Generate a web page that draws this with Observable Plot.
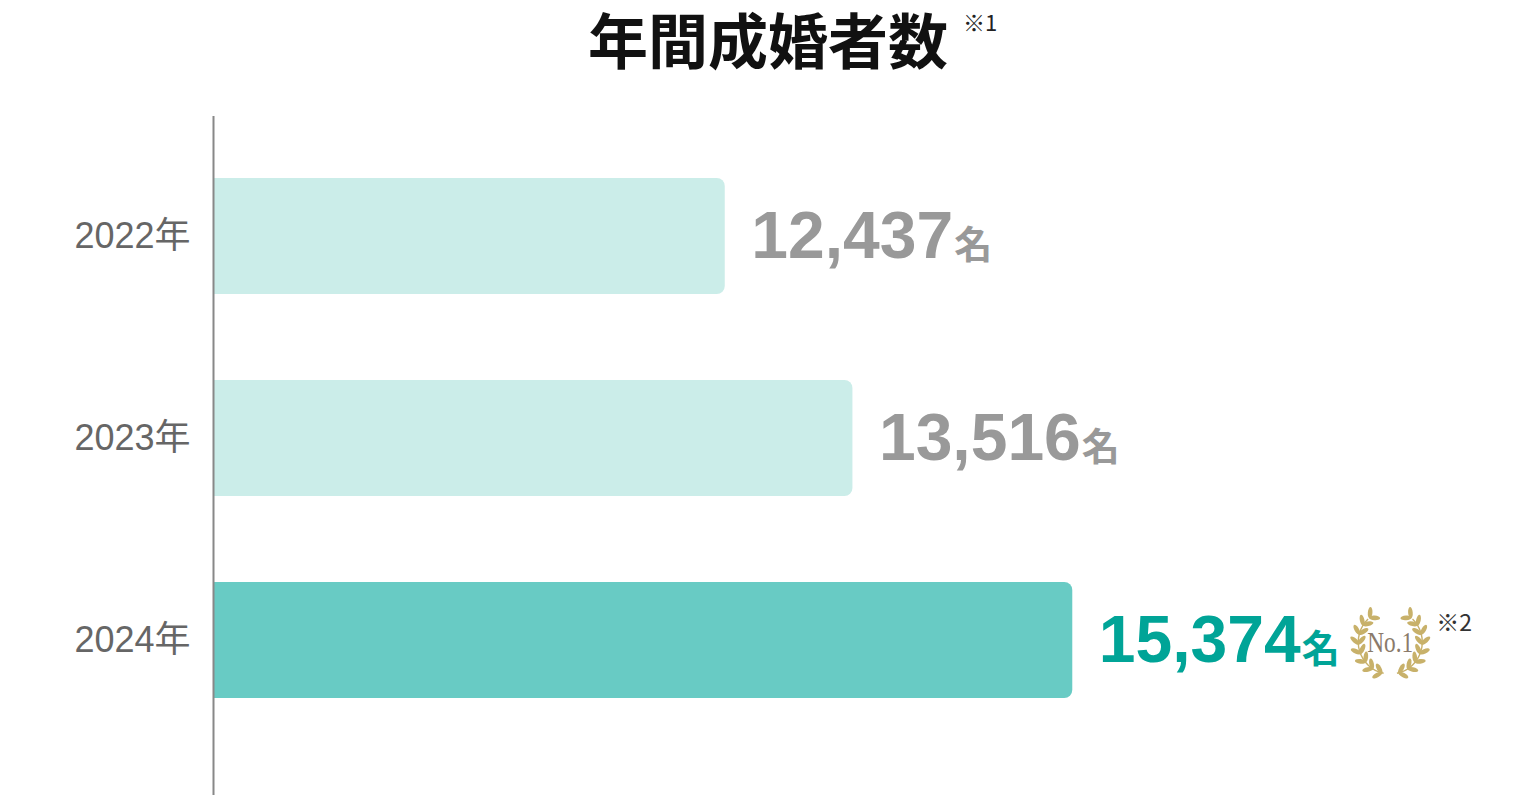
<!DOCTYPE html>
<html>
<head>
<meta charset="utf-8">
<script src="https://cdn.jsdelivr.net/npm/d3@7"></script>
<script src="https://cdn.jsdelivr.net/npm/@observablehq/plot@0.6"></script>
<style>
  html, body { margin: 0; padding: 0; background: #fff; }
  #chart { width: 1536px; height: 812px; }
</style>
</head>
<body>
<div id="chart"></div>
<script>
// ---- data ----
const titleText = "年間成婚者数";
const titleNote = "※1";
const years = ["2022年", "2023年", "2024年"];
const counts = [12437, 13516, 15374];
const highlightYear = "2024年";
const unit = "名";
const badgeText = "No.1";
const badgeNote = "※2";

// ---- styles ----
const barLight = "#cbede9";
const barDark = "#68cbc4";
const valueGray = "#999999";
const valueTeal = "#00a497";
const latin = "'Liberation Sans', Arial, 'Noto Sans CJK JP', sans-serif";
const cjk = "'Noto Sans CJK JP', sans-serif";
const titleSize = 60;

const data = years.map((y, i) => ({ year: y, value: counts[i], hi: y === highlightYear }));

const plot = Plot.plot({
  width: 1536,
  height: 812,
  marginLeft: 213,
  marginRight: 153,
  marginTop: 116,
  marginBottom: 17,
  style: { fontFamily: latin, background: "#fff" },
  x: { domain: [8112, 18000], clamp: true, axis: null },
  y: { domain: years, paddingInner: 0.4257, paddingOuter: 0.307, insetBottom: 35, axis: null, round: false, label: null },
  marks: [
    Plot.barX(data, { y: "year", x: "value", fill: d => d.hi ? barDark : barLight, rx2: 8 }),
    Plot.ruleX([0], { stroke: "#888", strokeWidth: 2 }),
    Plot.axisY({ tickSize: 0, tickPadding: 23, fontSize: 36, fill: "#666", label: null, fontFamily: latin }),
    Plot.text(data, {
      y: "year", x: "value", dx: 26, textAnchor: "start", lineAnchor: "middle",
      text: d => d3.format(",")(d.value) + unit,
      fill: d => d.hi ? valueTeal : valueGray,
      fontSize: 66, fontWeight: "bold"
    })
  ]
});

document.getElementById("chart").appendChild(plot);

const svg = d3.select(plot);
const ns = "http://www.w3.org/2000/svg";

// title (inside the svg, above the frame)
svg.append("text")
  .attr("x", 768).attr("y", 64)
  .attr("text-anchor", "middle")
  .attr("font-family", cjk).attr("font-weight", 700).attr("font-size", titleSize)
  .attr("fill", "#111")
  .text(titleText);
svg.append("text")
  .attr("x", 768 + titleText.length * titleSize / 2 + 15).attr("y", 31)
  .attr("text-anchor", "start")
  .attr("font-family", cjk).attr("font-size", 22).attr("fill", "#222")
  .text(titleNote);

// split unit into smaller tspan
const labelStrings = data.map(d => d3.format(",")(d.value) + unit);
svg.selectAll("text").each(function() {
  const t = this;
  const s = t.textContent;
  const idx = labelStrings.indexOf(s);
  if (idx < 0) return;
  const num = s.slice(0, -unit.length);
  while (t.firstChild) t.removeChild(t.firstChild);
  const a = document.createElementNS(ns, "tspan");
  a.textContent = num;
  t.appendChild(a);
  const b = document.createElementNS(ns, "tspan");
  b.textContent = unit;
  b.setAttribute("font-size", "38");
  b.setAttribute("font-family", cjk);
  b.setAttribute("font-weight", "bold");
  b.setAttribute("dx", "1");
  t.appendChild(b);
});

// badge next to highlighted value
{
  const xScale = plot.scale("x");
  const yScale = plot.scale("y");
  const hi = data.find(d => d.hi);
  const cy = yScale.apply(highlightYear) + yScale.bandwidth / 2 + 2;
  const cx = xScale.apply(hi.value) + 318;
  const g = svg.append("g").attr("aria-label", "badge");
  const gold = "#c8b16a";
  const R = 32;
  const leaves = [];
  const n = 8;
  for (let k = 0; k < n; k++) {
    const a = (106 + k * (124 / (n - 1))) * Math.PI / 180;
    const px = Math.cos(a) * R, py = Math.sin(a) * R;
    const tx = -Math.sin(a), ty = Math.cos(a);
    const nx = Math.cos(a), ny = Math.sin(a);
    for (const sgn of [1, -1]) {
      let dx = tx + sgn * 1.0 * nx, dy = ty + sgn * 1.0 * ny;
      const L = Math.hypot(dx, dy); dx /= L; dy /= L;
      leaves.push({ x: px + dx * 4.8, y: py + dy * 4.8, ang: Math.atan2(dy, dx) * 180 / Math.PI });
    }
  }
  for (const side of [1, -1]) {
    g.append("path")
      .attr("d", d3.arc()({ innerRadius: R - 0.7, outerRadius: R + 0.7,
        startAngle: side * (102 + 90) * Math.PI / 180,
        endAngle: side * (226 + 90) * Math.PI / 180 }))
      .attr("transform", `translate(${cx},${cy})`)
      .attr("fill", gold);
    for (const l of leaves) {
      const x = side === 1 ? l.x : -l.x;
      const ang = side === 1 ? l.ang : 180 - l.ang;
      g.append("ellipse")
        .attr("cx", 0).attr("cy", 0).attr("rx", 5.6).attr("ry", 2.3)
        .attr("fill", gold)
        .attr("transform", `translate(${cx + x},${cy + l.y}) rotate(${ang})`);
    }
  }
  g.append("text")
    .attr("x", cx).attr("y", cy + 10)
    .attr("text-anchor", "middle")
    .attr("font-family", "'Liberation Serif', 'DejaVu Serif', serif")
    .attr("font-size", 29)
    .attr("fill", "#8a7a6a")
    .attr("textLength", 46).attr("lengthAdjust", "spacingAndGlyphs")
    .text(badgeText);
  svg.append("text")
    .attr("x", cx + 46).attr("y", cy - 11)
    .attr("text-anchor", "start")
    .attr("font-family", cjk)
    .attr("font-size", 23)
    .attr("fill", "#333")
    .text(badgeNote);
}
</script>
</body>
</html>
